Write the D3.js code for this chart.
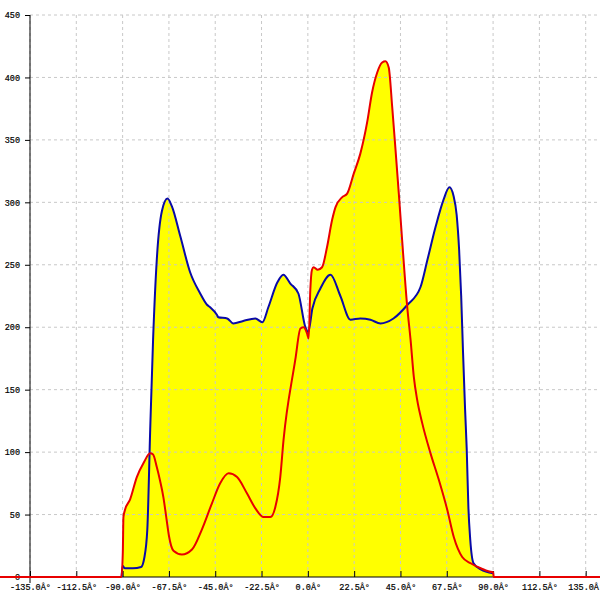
<!DOCTYPE html>
<html><head><meta charset="utf-8">
<script src="https://cdn.jsdelivr.net/npm/d3@7"></script>
<style>body{margin:0;background:#fff}svg{display:block}</style>
</head><body>
<svg id="c" width="600" height="600"></svg>
<script>
const xTicks = [-135, -112.5, -90, -67.5, -45, -22.5, 0, 22.5, 45, 67.5, 90, 112.5, 135];
const yTicks = [0, 50, 100, 150, 200, 250, 300, 350, 400, 450];
const xTickLabels = xTicks.map(d => d.toFixed(1) + "Â°");

const blueAngles = [-90.5,-90,-89,-85,-81,-79.5,-78,-76.6,-75.2,-73.4,-70.9,-68.2,-66.1,-62,-57.2,-52.3,-49,-47.5,-44.2,-43.5,-39.2,-36.2,-31.4,-25.5,-22.1,-19.2,-14.8,-11.9,-8.5,-4.6,-1.2,0.2,2.2,6.1,11,15.8,20.7,25.5,30.4,35.3,41.6,48.4,54.7,58.1,62,65.9,68.8,70.8,72.3,73.5,74.5,75.4,76.4,77.2,78,78.9,80.5,84,90];
const blueValues = [0,9,7,7,8,15,38,118,190,254,293,303,297,273,244,227,218,216,210,208,207,203,205,207,204,216,236,242,235,227,200,196,215,231,242,225,206,207,206,203,207,218,232,254,280,302,312,305,290,262,225,180,134,102,56,30,11,6,3];

const redAngles = [-180,-90.6,-89.9,-89.6,-88.8,-86.4,-83.1,-79.9,-76.6,-75.2,-73.4,-71.8,-70.2,-68.8,-67.5,-65.3,-61.2,-56.3,-51.5,-46.6,-42.6,-38.5,-34.4,-29.6,-25.5,-21.5,-18.2,-15.8,-13.4,-11.8,-6.9,-6.1,-3.6,-2.0,-0.4,0.4,1.2,2.0,2.8,4.8,6.9,9.3,11.8,13.4,16.6,19.1,22.3,25.5,28.8,31.2,33.7,36.1,37.7,39.3,41.0,42.6,44.2,45.8,48.3,49.9,51.5,53.1,55.6,59.6,63.6,67.7,70.9,75.0,79.1,84.0,89.6,90,90.3,180];
const redValues = [0,0,20,48,54,62,80,91,99,98,88,77,64,48,33,21,18,22,38,59,75,83,80,67,55,48,48,56,80,110,166,174,199,200,195,191,230,246,248,246,248,264,286,296,304,307,323,339,364,388,404,412,413,408,376,342,307,270,216,190,160,142,123,99,78,54,32,16,11,7,4,4,0,0];

const svg = d3.select("#c");
const x = d3.scaleLinear().domain([-135, 135]).range([30, 585.7]);
const y = d3.scaleLinear().domain([0, 450]).range([577, 15]);

const blue = blueAngles.map((a, i) => [a, blueValues[i]]);
const red = redAngles.map((a, i) => [a, redValues[i]]);

const area = d3.area().x(d => x(d[0])).y0(y(0)).y1(d => y(d[1])).curve(d3.curveMonotoneX);
const line = d3.line().x(d => x(d[0])).y(d => y(d[1])).curve(d3.curveMonotoneX);

svg.append("path").attr("d", area(red)).attr("fill", "#ffff00");
svg.append("path").attr("d", area(blue)).attr("fill", "#ffff00");

// grid
const g = svg.append("g");
g.selectAll("line.v").data(xTicks).join("line")
  .attr("x1", d => x(d)).attr("x2", d => x(d)).attr("y1", 15).attr("y2", 577)
  .attr("stroke", "#c8c8c8").attr("stroke-dasharray", "3,3");
g.selectAll("line.h").data(yTicks.slice(1)).join("line")
  .attr("x1", 30).attr("x2", 600).attr("y1", d => y(d)).attr("y2", d => y(d))
  .attr("stroke", "#c8c8c8").attr("stroke-dasharray", "3,3");

// axes
const font = "Liberation Mono, DejaVu Sans Mono, monospace";
const xAxis = d3.axisBottom(x).tickValues(xTicks).tickFormat((d, i) => xTickLabels[i]).tickSizeInner(-6).tickSizeOuter(0).tickPadding(10);
const xg = svg.append("g").attr("transform", `translate(0,${y(0)})`).call(xAxis);
xg.select(".domain").remove();
xg.append("line").attr("x1", 30).attr("x2", 600).attr("y1", 0).attr("y2", 0).attr("stroke", "#000");
xg.selectAll(".tick line").attr("stroke", "#000").attr("y2", -6);
xg.selectAll("text").attr("font-family", font).attr("font-size", "8.5px").attr("fill", "#000").attr("stroke", "#000").attr("stroke-width", 0.2).attr("dy", "0.3em");

const yAxis = d3.axisLeft(y).tickValues(yTicks).tickSizeInner(5).tickSizeOuter(0).tickPadding(5);
const yg = svg.append("g").attr("transform", "translate(30,0)").call(yAxis);
yg.select(".domain").remove();
yg.append("line").attr("x1", 0).attr("x2", 0).attr("y1", 15).attr("y2", 583).attr("stroke", "#000");
yg.selectAll("text").attr("font-family", font).attr("font-size", "8.5px").attr("fill", "#000").attr("stroke", "#000").attr("stroke-width", 0.2);

svg.append("path").attr("d", line(blue)).attr("fill", "none").attr("stroke", "#0a0aa8").attr("stroke-width", 2);
svg.append("path").attr("d", line(red)).attr("fill", "none").attr("stroke", "#e80000").attr("stroke-width", 2);
</script>
</body></html>
